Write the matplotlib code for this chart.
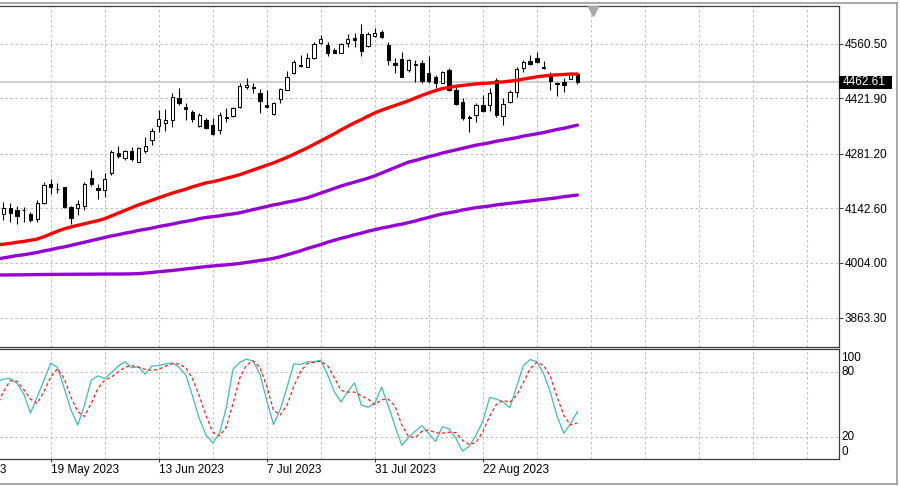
import matplotlib
matplotlib.use("Agg")
import matplotlib.pyplot as plt
import matplotlib.transforms as mtransforms
from matplotlib.lines import Line2D
from matplotlib.patches import Rectangle
import pandas as pd

plt.rcParams['font.family'] = ['Liberation Sans', 'DejaVu Sans']

# trading calendar (US holidays removed); first price bar is 9 May 2023
calendar = pd.bdate_range('2023-04-27', '2023-09-12')
calendar = calendar.drop(pd.to_datetime(['2023-05-29', '2023-06-19', '2023-07-04', '2023-09-04']))
first_bar = 8

opens = [4131,
         4127, 4144, 4138, 4138, 4127, 4114, 4157, 4203, 4191, 4196,
         4146, 4142, 4148, 4219, 4193, 4189, 4232, 4282, 4270, 4287,
         4261, 4288, 4316, 4352, 4359, 4367, 4422, 4401, 4387, 4352,
         4366, 4355, 4342, 4374, 4376, 4400, 4451, 4452, 4435, 4406,
         4382, 4420, 4444, 4486, 4507, 4503, 4524, 4562, 4558, 4545,
         4538, 4564, 4575, 4586, 4555, 4582, 4592, 4559, 4511, 4522,
         4494, 4509, 4512, 4487, 4476, 4462, 4494, 4443, 4413, 4374,
         4380, 4405, 4405, 4469, 4377, 4413, 4438, 4499, 4518, 4524,
         4501, 4484, 4460, 4463, 4472, 4485]
highs = [4140,
         4159, 4155, 4148, 4146, 4134, 4163, 4210, 4216, 4206, 4197,
         4148, 4163, 4210, 4240, 4203, 4231, 4291, 4301, 4291, 4299,
         4299, 4323, 4346, 4393, 4394, 4437, 4448, 4410, 4393, 4386,
         4371, 4371, 4388, 4397, 4401, 4462, 4473, 4460, 4445, 4443,
         4414, 4448, 4493, 4520, 4532, 4537, 4566, 4583, 4566, 4550,
         4564, 4586, 4588, 4611, 4592, 4600, 4596, 4566, 4524, 4541,
         4522, 4520, 4520, 4531, 4482, 4492, 4499, 4456, 4422, 4380,
         4410, 4431, 4448, 4473, 4422, 4443, 4503, 4521, 4533, 4541,
         4516, 4490, 4465, 4473, 4490, 4487]
lows = [4115,
        4113, 4108, 4102, 4108, 4108, 4108, 4153, 4179, 4180, 4142,
        4102, 4125, 4138, 4198, 4166, 4170, 4227, 4270, 4265, 4263,
        4259, 4282, 4303, 4337, 4339, 4350, 4405, 4367, 4363, 4348,
        4343, 4329, 4331, 4363, 4375, 4398, 4446, 4436, 4386, 4397,
        4381, 4411, 4443, 4484, 4503, 4501, 4522, 4560, 4531, 4537,
        4537, 4554, 4554, 4530, 4554, 4579, 4577, 4507, 4487, 4476,
        4490, 4464, 4462, 4460, 4448, 4460, 4441, 4405, 4367, 4337,
        4362, 4388, 4391, 4375, 4354, 4410, 4425, 4490, 4507, 4511,
        4498, 4443, 4429, 4439, 4471, 4459]
closes = [4120,
          4142, 4130, 4123, 4137, 4113, 4157, 4202, 4196, 4192, 4146,
          4117, 4153, 4204, 4204, 4189, 4218, 4286, 4275, 4289, 4267,
          4295, 4301, 4339, 4369, 4367, 4425, 4410, 4394, 4369, 4381,
          4347, 4331, 4380, 4373, 4398, 4454, 4457, 4448, 4416, 4400,
          4410, 4445, 4476, 4515, 4505, 4524, 4560, 4572, 4537, 4538,
          4560, 4573, 4571, 4543, 4586, 4589, 4579, 4521, 4508, 4477,
          4521, 4507, 4467, 4466, 4461, 4489, 4443, 4408, 4371, 4372,
          4405, 4391, 4435, 4380, 4407, 4439, 4498, 4515, 4510, 4514,
          4499, 4467, 4459, 4456, 4484, 4462.61]

ma_fast = [4049,
           4051, 4053, 4056, 4058, 4061, 4064, 4070, 4077, 4084, 4090,
           4095, 4099, 4103, 4107, 4111, 4116, 4123, 4130, 4137, 4144,
           4151, 4157, 4163, 4169, 4175, 4181, 4186, 4191, 4197, 4202,
           4207, 4210, 4214, 4219, 4223, 4228, 4234, 4240, 4246, 4252,
           4258, 4265, 4272, 4280, 4288, 4296, 4305, 4314, 4323, 4332,
           4342, 4351, 4360, 4368, 4377, 4385, 4392, 4398, 4404, 4410,
           4416, 4423, 4430, 4436, 4442, 4447, 4450, 4453, 4455, 4457,
           4459, 4460, 4461, 4463, 4464, 4466, 4468, 4471, 4474, 4477,
           4479, 4481, 4482, 4483, 4484, 4484]
ma_mid = [4013,
          4016, 4019, 4022, 4024, 4027, 4030, 4034, 4037, 4041, 4044,
          4048, 4052, 4056, 4060, 4064, 4068, 4072, 4075, 4079, 4082,
          4086, 4089, 4092, 4096, 4099, 4102, 4106, 4109, 4112, 4116,
          4119, 4121, 4123, 4126, 4128, 4131, 4135, 4139, 4143, 4147,
          4151, 4154, 4158, 4161, 4165, 4169, 4175, 4181, 4187, 4193,
          4199, 4204, 4209, 4214, 4219, 4225, 4232, 4239, 4246, 4253,
          4260, 4264, 4269, 4274, 4278, 4283, 4287, 4291, 4295, 4299,
          4303, 4306, 4309, 4313, 4316, 4319, 4322, 4326, 4329, 4332,
          4335, 4339, 4343, 4346, 4350, 4354]
ma_slow = [3972.4,
           3972.6, 3972.8, 3973.0, 3973.2, 3973.4, 3973.6, 3973.8, 3974.0, 3974.1, 3974.3,
           3974.4, 3974.5, 3974.6, 3974.7, 3974.9, 3975.0, 3975.0, 3975.1, 3975.2, 3975.5,
           3976.0, 3977.5, 3979.0, 3981.0, 3982.5, 3984.0, 3986.0, 3988.0, 3990.0, 3992.0,
           3994.0, 3995.5, 3997.0, 3998.5, 4000.0, 4002.0, 4004.5, 4007.0, 4009.5, 4012.0,
           4015, 4019, 4024, 4029, 4034, 4040, 4045, 4050, 4056, 4061,
           4066, 4070, 4075, 4079, 4084, 4088, 4092, 4095, 4099, 4102,
           4106, 4110, 4115, 4119, 4124, 4128, 4131, 4134, 4138, 4141,
           4144, 4146, 4148, 4151, 4153, 4155, 4157, 4159, 4161, 4163,
           4165, 4167, 4169, 4172, 4174, 4176]

stoch_k = [71,
           73.5, 74, 69.5, 60, 42, 57, 72.5, 88, 84.5, 65,
           45, 31, 49.5, 72.5, 76.5, 74, 79.5, 85.5, 89.5, 84,
           85, 78, 85.5, 86, 87.5, 88.5, 84.5, 77.5, 58, 37,
           22, 14.5, 23.5, 47, 82.5, 89, 92, 90, 78, 53.5,
           31.5, 45.5, 66, 87.5, 87, 89.5, 89.5, 91, 77.5, 62,
           52.5, 62, 70, 49.5, 47.5, 51, 66, 49, 30, 12.5,
           19.5, 25.5, 30.5, 23, 16, 29.5, 27.5, 19, 7, 11.5,
           22, 34.5, 56.5, 55, 52.5, 47, 66.5, 86, 91.5, 89.5,
           78.5, 61.5, 39, 23.5, 32.5, 43.5]
stoch_d = [48,
           62, 72, 71.5, 64, 55, 51, 62, 75.5, 83, 74,
           57, 43.5, 39, 51, 65, 72.5, 75.5, 80, 84.5, 86,
           84.5, 82.5, 81.5, 82.5, 85.5, 87.5, 87.5, 84, 74, 58,
           40, 24.5, 21, 29, 51, 74.5, 86.5, 90.5, 84, 67,
           44.5, 40.5, 49.5, 66.5, 80.5, 87.8, 89, 90, 86, 75,
           63, 61.5, 61.5, 58, 55, 50, 54.5, 55, 48.5, 31,
           20.5, 19.5, 25.5, 26.5, 24, 23.5, 24.5, 24, 17, 13,
           15, 25, 39, 50, 54, 52, 58.5, 70, 83, 89,
           86, 76, 57, 40, 31, 33]

price_ticks = [4560.50, 4421.90, 4281.20, 4142.60, 4004.00, 3863.30]
stoch_levels = [20, 80]
last_price = closes[-1]

xs = list(range(first_bar, first_bar + len(closes)))
x_left, x_right = first_bar + 0.489, first_bar + 124.68
grid_x = list(range(16, 130, 8))
label_x = list(range(0, 96, 16))

W, H = 900, 486
fig = plt.figure(figsize=(W / 100, H / 100), dpi=100)
fig.patch.set_facecolor('white')

ax = fig.add_axes([0, (H - 346.5) / H, 838.5 / W, 340 / H])
ax2 = fig.add_axes([0, (H - 458.5) / H, 838.5 / W, 109.2 / H])

grid_kw = dict(color='#c0c0c0', lw=0.75, ls=(0, (2.4, 2.4)), zorder=0)
spine_col = '#3c3c3c'

# ---- price panel ----
for gx in grid_x:
    ax.axvline(gx, **grid_kw)
for py in price_ticks:
    ax.axhline(py, **grid_kw)
ax.axhline(last_price, color='#cfcfcf', lw=1.4, zorder=1)

up = [c >= o for o, c in zip(opens, closes)]
ax.vlines(xs, lows, highs, color='black', lw=0.8, zorder=3)
body_lo = [min(o, c) for o, c in zip(opens, closes)]
body_h = [abs(c - o) for o, c in zip(opens, closes)]
ax.bar(xs, body_h, bottom=body_lo, width=0.5,
       color=['white' if u else 'black' for u in up],
       edgecolor='black', linewidth=0.75, zorder=4)

ax.plot(xs, ma_slow, color='#9400d3', lw=2.4, solid_capstyle='round', zorder=5)
ax.plot(xs, ma_mid, color='#9400d3', lw=2.4, solid_capstyle='round', zorder=5)
ax.plot(xs, ma_fast, color='#ff0000', lw=2.4, solid_capstyle='round', zorder=5)

ax.set_xlim(x_left, x_right)
ax.set_ylim(3790.6, 4655.9)
ax.set_xticks([])
ax.yaxis.tick_right()
ax.set_yticks(price_ticks)
ax.set_yticklabels([f'{p:.2f}' for p in price_ticks])
ax.tick_params(axis='y', length=3, width=0.75, color=spine_col, pad=1.5,
               labelsize=8.5, labelcolor='black')
ax.spines['left'].set_visible(False)
for s in ['top', 'right', 'bottom']:
    ax.spines[s].set_color(spine_col)
    ax.spines[s].set_linewidth(0.9)

# current price tag
tr = mtransforms.blended_transform_factory(ax.transAxes, ax.transData)
tag_h = 13.3 * (4655.9 - 3790.6) / 340
ax.add_patch(Rectangle((1.001, last_price - tag_h / 2), 52.4 / 838.5, tag_h,
                       transform=tr, facecolor='black', edgecolor='none',
                       clip_on=False, zorder=10))
ax.text(1.0 + 4.5 / 838.5, last_price, f'{last_price:.2f}', transform=tr,
        color='white', fontsize=8.5, va='center', ha='left', clip_on=False, zorder=11)

# chart shift marker
ax.plot([593 / 838.5], [0.987], marker='v', color='#a8a8a8', markersize=7.5,
        transform=ax.transAxes, clip_on=False, zorder=6)

# ---- stochastic panel ----
for gx in grid_x:
    ax2.axvline(gx, **grid_kw)
for lv in stoch_levels:
    ax2.axhline(lv, **grid_kw)
ax2.plot(xs, stoch_k, color='#3cbfb2', lw=0.9, zorder=3)
ax2.plot(xs, stoch_d, color='#ff2020', lw=0.9, ls=(0, (2.6, 2.0)), zorder=4)
ax2.set_xlim(x_left, x_right)
ax2.set_ylim(0.2, 101)
ax2.set_yticks([])
ax2.set_xticks([x for x in label_x if x > x_left])
ax2.set_xticklabels([])
ax2.tick_params(axis='x', length=2.5, width=0.75, color=spine_col)
ax2.spines['left'].set_visible(False)
for s in ['top', 'right', 'bottom']:
    ax2.spines[s].set_color(spine_col)
    ax2.spines[s].set_linewidth(0.9)

tr2 = mtransforms.blended_transform_factory(ax2.transAxes, ax2.transData)
for txt, v in [('100', 93.4), ('80', 80), ('20', 20), ('0', 6.5)]:
    ax2.text(1.0 + 2.5 / 838.5, v, txt, transform=tr2, fontsize=8.5,
             va='center', ha='left', clip_on=False)

trx = mtransforms.blended_transform_factory(ax2.transData, ax2.transAxes)
off = mtransforms.ScaledTranslation(0, -5.5 / 100, fig.dpi_scale_trans)
for lx in label_x:
    ax2.text(lx, 0, calendar[lx].strftime('%-d %b %Y'), transform=trx + off,
             fontsize=8.5, ha='left', va='top', clip_on=False)

# window frame
frame_col = '#9a9a9a'
fig.add_artist(Line2D([0, 897 / W], [1 - 3.5 / H, 1 - 3.5 / H], color=frame_col, lw=1.2))
fig.add_artist(Line2D([897 / W, 897 / W], [1 - 3.5 / H, 1 - 483.5 / H], color=frame_col, lw=1.2))
fig.add_artist(Line2D([0, 897 / W], [1 - 483.5 / H, 1 - 483.5 / H], color=frame_col, lw=1.2))

fig.savefig('out.png', dpi=100, facecolor='white')
